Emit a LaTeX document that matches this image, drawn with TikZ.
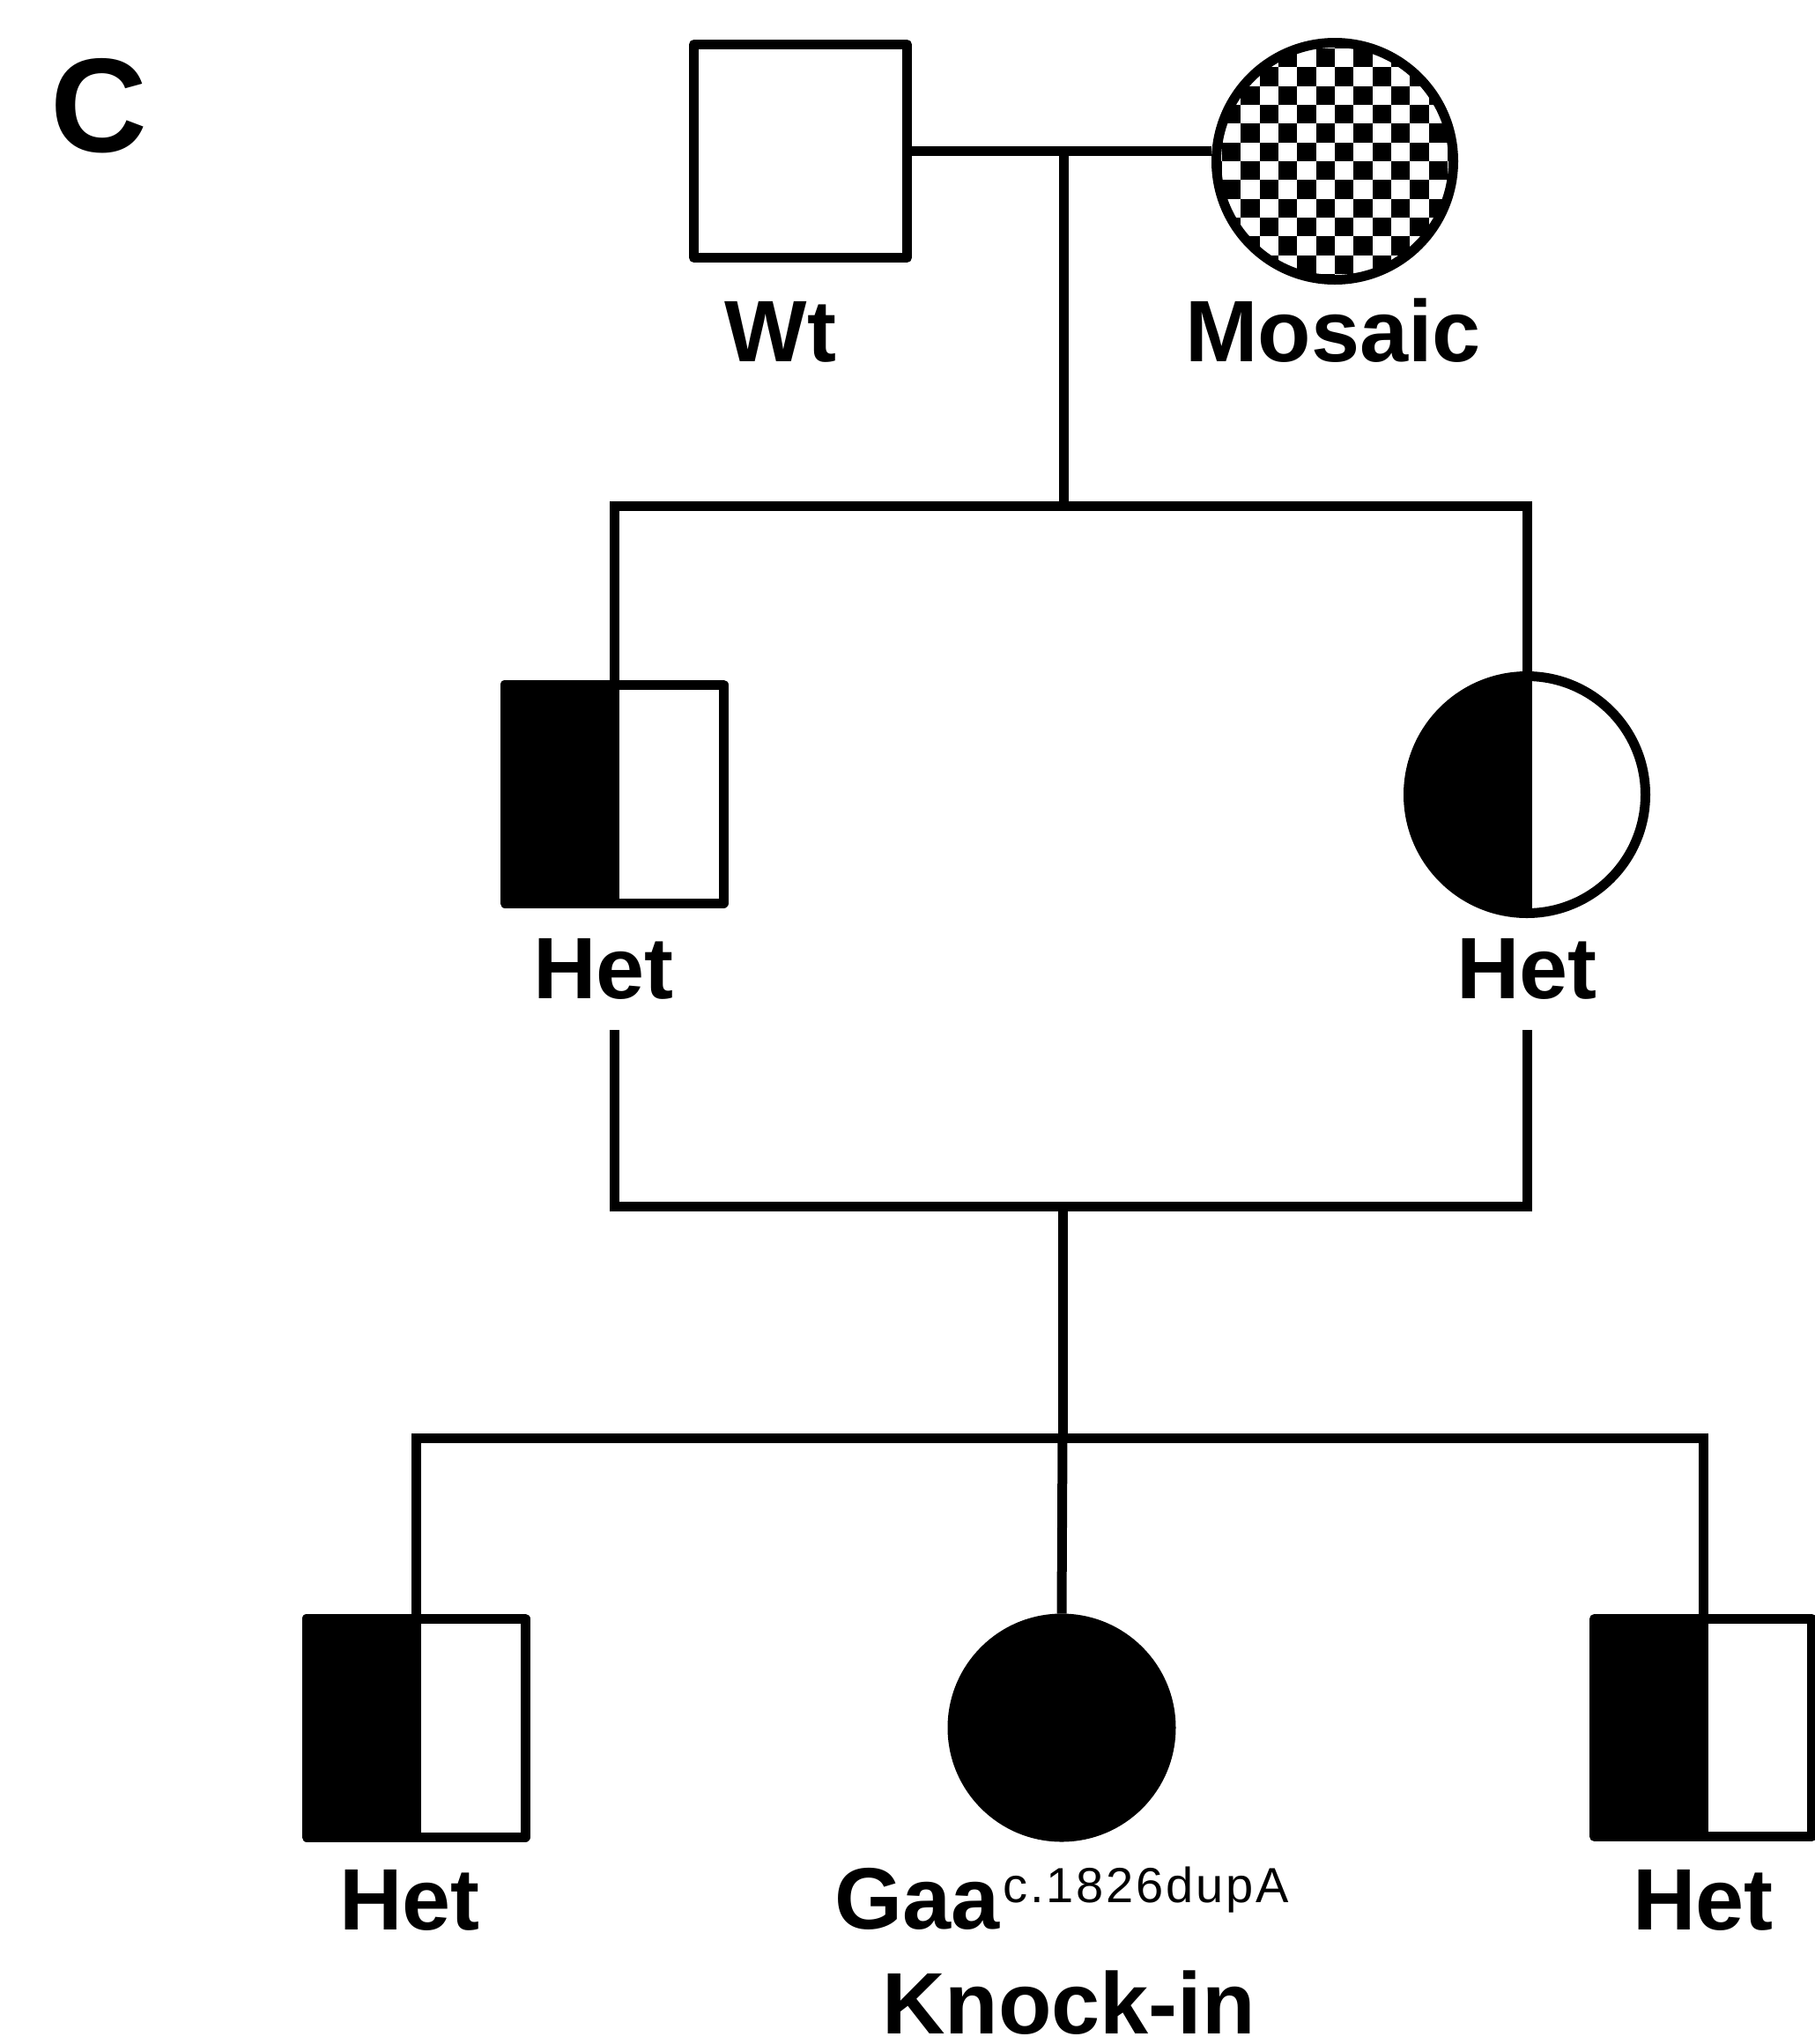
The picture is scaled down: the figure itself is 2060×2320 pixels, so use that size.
\documentclass[tikz,border=0pt]{standalone}
\usepackage{fontspec}
\setmainfont{Liberation Sans}
\newcommand{\lsp}{\kern1.4pt}
\begin{document}
\begin{tikzpicture}[x=0.5pt,y=-0.5pt,
  ln/.style={line width=5.5pt, line join=miter, line cap=butt},
  sqbox/.style={draw, rectangle, line width=5.5pt, minimum size=124pt, inner sep=0pt, fill=white, line join=round},
  cibox/.style={draw, circle, line width=5.5pt, minimum size=134.5pt, inner sep=0pt, fill=white},
  halfleft/.style={path picture={\fill[black] (path picture bounding box.south west) rectangle ([xshift=2.75pt]path picture bounding box.north);}},
  checker/.style={path picture={
    \foreach \i in {-7,...,6}{\foreach \j in {-7,...,6}{
      \pgfmathtruncatemacro\cbpar{mod(\i+\j+20,2)}
      \ifnum\cbpar=0 \fill[black] ([shift={(\i*10.67pt,\j*10.67pt)}]path picture bounding box.center) rectangle ++(10.67pt,10.67pt);\fi
    }}}},
  lab/.style={font=\fontsize{49.5}{55}\selectfont\bfseries, anchor=base, inner sep=0pt},
]
\fill[white] (0,0) rectangle (2060,2320);
\useasboundingbox (0,0) rectangle (2060,2320);

% panel letter
\node[font=\fontsize{76}{80}\selectfont\bfseries, anchor=base, inner sep=0pt] (panel) at (112,172) {C};

% generation 1
\node[sqbox, minimum size=121pt] (wt) at (908.5,171.5) {};
\node[cibox, checker] (mos) at (1515,183) {};
\node[lab] (wtl) at (886,410) {Wt};
\node[lab] (mosl) at (1513,410) {Mosaic};

% generation 2
\node[sqbox, halfleft] (h2a) at (697,901) {};
\node[cibox, halfleft] (h2b) at (1733,902) {};
\node[lab] (l2a) at (685,1133) {Het};
\node[lab] (l2b) at (1733,1133) {Het};

% generation 3
\node[sqbox, halfleft] (h3a) at (472,1961) {};
\node[cibox, fill=black, minimum size=124pt] (ki) at (1205,1961) {};
\node[sqbox, halfleft, minimum size=123.5pt] (h3c) at (1933,1961) {};
\node[lab] (l3a) at (465,2190) {Het};
\node[lab] (l3c) at (1933,2190) {Het};
\node[lab, anchor=base west] (gaa) at (947,2189) {Gaa\kern2pt\raisebox{15pt}{\fontsize{28}{30}\selectfont\mdseries c\lsp.\lsp1\lsp8\lsp2\lsp6\lsp d\lsp u\lsp p\lsp A}};
\node[lab, text depth=0pt] (kil) at (1213,2308) {Knock-in};

% connectors
\coordinate (m1) at (1207,171.5);
\coordinate (s1) at (1207,574);
\coordinate (u2a) at (697,1169);
\coordinate (u2b) at (1733,1169);
\coordinate (m2) at (1206,1369);
\coordinate (s2) at (1206,1632);

\draw[ln] (wt.east) -- (wt.east -| mos.west);
\draw[ln] (m1) -- (s1);
\draw[ln] (h2a.north) |- (s1) -| (h2b.north);
\draw[ln] (u2a) |- (m2) -| (u2b);
\draw[ln] (m2) -- (s2);
\draw[ln] (h3a.north) |- (s2) -| (h3c.north);
\draw[ln] (s2) -- (ki.north);
\end{tikzpicture}
\end{document}
